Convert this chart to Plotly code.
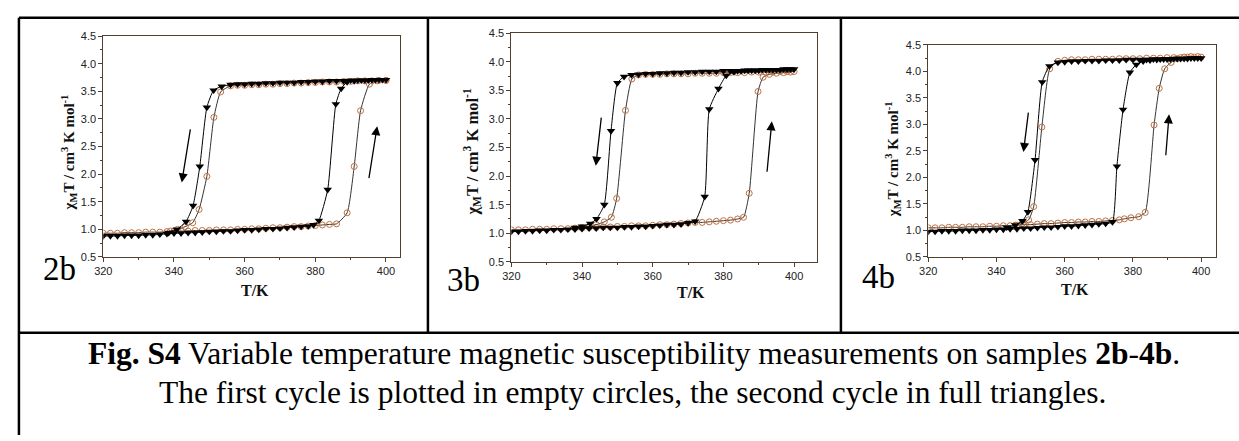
import plotly.graph_objects as go

W, H = 1239, 441

# ---------------- data ----------------
# Panel 2b, first cycle (open circles)
P2B_C1_HEAT_T = [320, 322, 324, 326, 328, 330, 332, 334, 336, 338, 340, 342, 344, 346, 348, 350, 352, 354, 356, 358,
                 360, 362, 364, 366, 368, 370, 372, 374, 376, 378, 380, 382, 384, 386, 389.0, 391.0, 392.8, 395.3, 397.5, 400]
P2B_C1_HEAT_V = [0.93, 0.93, 0.93, 0.94, 0.94, 0.94, 0.95, 0.95, 0.95, 0.96, 0.97, 0.97, 0.97, 0.98, 0.98, 0.98, 0.99, 0.99, 0.99, 1.00,
                 1.00, 1.01, 1.01, 1.02, 1.03, 1.03, 1.04, 1.05, 1.05, 1.06, 1.07, 1.08, 1.09, 1.10, 1.30, 2.14, 3.15, 3.63, 3.69, 3.70]
P2B_C1_COOL_T = [400, 398, 396, 394, 392, 390, 388, 386, 384, 382, 380, 378, 376, 374, 372, 370, 368, 366, 364, 362, 360, 358, 356,
                 353.2, 351.3, 349.3, 347.1, 345.3, 343.2, 341.0, 339.0]
P2B_C1_COOL_V = [3.70, 3.70, 3.69, 3.69, 3.69, 3.68, 3.68, 3.67, 3.67, 3.67, 3.66, 3.66, 3.65, 3.65, 3.64, 3.64, 3.63, 3.63, 3.62, 3.62, 3.61, 3.61, 3.60,
                 3.49, 3.03, 1.96, 1.36, 1.12, 1.05, 1.00, 0.97]
# Panel 2b, second cycle (full triangles)
P2B_C2_HEAT_T = [320, 322, 324, 326, 328, 330, 332, 334, 336, 338, 340, 342, 344, 346, 348, 350, 352, 354, 356, 358,
                 360, 362, 364, 366, 368, 370, 372, 374, 376, 378, 379.5, 381.0, 383.5, 385.8, 387.3, 389, 391, 393, 395, 397, 399]
P2B_C2_HEAT_V = [0.88, 0.88, 0.88, 0.89, 0.89, 0.89, 0.90, 0.90, 0.91, 0.92, 0.93, 0.93, 0.94, 0.94, 0.95, 0.96, 0.96, 0.97, 0.97, 0.98,
                 0.99, 0.99, 1.00, 1.01, 1.01, 1.02, 1.03, 1.04, 1.05, 1.06, 1.08, 1.16, 1.72, 3.27, 3.55, 3.67, 3.69, 3.70, 3.70, 3.71, 3.71]
P2B_C2_COOL_T = [400, 398, 396, 394, 392, 390, 388, 386, 384, 382, 380, 378, 376, 374, 372, 370, 368, 366, 364, 362, 360, 358, 356,
                 353.5, 351.2, 349.3, 347.3, 345.4, 343.4, 340.8, 338.5]
P2B_C2_COOL_V = [3.71, 3.71, 3.71, 3.70, 3.70, 3.70, 3.69, 3.69, 3.69, 3.68, 3.68, 3.67, 3.67, 3.66, 3.66, 3.66, 3.65, 3.65, 3.64, 3.64, 3.63, 3.63, 3.62,
                 3.59, 3.52, 3.21, 2.14, 1.43, 1.14, 1.00, 0.94]

# Panel 3b
P3B_C1_HEAT_T = [320, 322, 324, 326, 328, 330, 332, 334, 336, 338, 340, 342, 344, 346, 348, 350, 352, 354, 356, 358,
                 360, 362, 364, 366, 368, 370, 372, 374, 376, 378, 380, 382, 384, 385.7, 387.3, 389.8, 391.2, 393, 395, 397, 399]
P3B_C1_HEAT_V = [1.06, 1.06, 1.06, 1.07, 1.07, 1.07, 1.08, 1.08, 1.08, 1.09, 1.09, 1.10, 1.10, 1.11, 1.11, 1.12, 1.12, 1.13, 1.13, 1.13,
                 1.14, 1.15, 1.15, 1.16, 1.17, 1.18, 1.19, 1.19, 1.20, 1.21, 1.22, 1.23, 1.25, 1.28, 1.70, 3.48, 3.73, 3.78, 3.80, 3.81, 3.82]
P3B_C1_COOL_T = [400, 398, 396, 394, 392, 390, 388, 386, 384, 382, 380, 378, 376, 374, 372, 370, 368, 366, 364, 362, 360, 358, 356,
                 354.1, 352.3, 349.8, 348.3, 346.3, 344, 342, 340]
P3B_C1_COOL_V = [3.83, 3.83, 3.83, 3.82, 3.82, 3.82, 3.82, 3.81, 3.81, 3.81, 3.81, 3.80, 3.80, 3.80, 3.80, 3.79, 3.79, 3.79, 3.79, 3.78, 3.78, 3.78, 3.77,
                 3.70, 3.15, 1.61, 1.28, 1.20, 1.15, 1.12, 1.10]
P3B_C2_HEAT_T = [320, 322, 324, 326, 328, 330, 332, 334, 336, 338, 340, 342, 344, 346, 348, 350, 352, 354, 356, 358,
                 360, 362, 364, 366, 368, 370, 372, 374.7, 376.0, 378.6, 380.8, 383, 385, 387, 389, 391, 393, 395, 397, 399]
P3B_C2_HEAT_V = [1.03, 1.03, 1.04, 1.04, 1.05, 1.05, 1.06, 1.06, 1.07, 1.07, 1.08, 1.09, 1.09, 1.10, 1.10, 1.10, 1.11, 1.11, 1.12, 1.12,
                 1.13, 1.14, 1.15, 1.15, 1.16, 1.18, 1.21, 1.64, 3.17, 3.53, 3.76, 3.82, 3.84, 3.85, 3.85, 3.86, 3.86, 3.86, 3.87, 3.87]
P3B_C2_COOL_T = [400, 398, 396, 394, 392, 390, 388, 386, 384, 382, 380, 378, 376, 374, 372, 370, 368, 366, 364, 362, 360, 358, 356, 354,
                 351.9, 350.0, 348.2, 346.3, 344.1, 342.3, 340, 338]
P3B_C2_COOL_V = [3.87, 3.87, 3.86, 3.86, 3.86, 3.85, 3.85, 3.85, 3.84, 3.84, 3.84, 3.83, 3.83, 3.83, 3.82, 3.82, 3.81, 3.81, 3.80, 3.80, 3.79, 3.79, 3.78, 3.77,
                 3.74, 3.63, 2.79, 1.50, 1.25, 1.17, 1.12, 1.10]

# Panel 4b
P4B_C1_HEAT_T = [320, 322, 324, 326, 328, 330, 332, 334, 336, 338, 340, 342, 344, 346, 348, 350, 352, 354, 356, 358,
                 360, 362, 364, 366, 368, 370, 372, 374, 376, 377.5, 379.4, 381.7, 383.6, 386.2, 387.7, 389.3, 391.2, 393, 395, 397, 399]
P4B_C1_HEAT_V = [1.05, 1.05, 1.05, 1.06, 1.06, 1.06, 1.07, 1.07, 1.07, 1.08, 1.08, 1.09, 1.09, 1.10, 1.11, 1.11, 1.12, 1.13, 1.13, 1.14,
                 1.15, 1.15, 1.16, 1.16, 1.17, 1.17, 1.18, 1.19, 1.20, 1.22, 1.24, 1.26, 1.34, 2.99, 3.68, 4.05, 4.17, 4.24, 4.27, 4.28, 4.28]
P4B_C1_COOL_T = [400, 398, 396, 394, 392, 390, 388, 386, 384, 382, 380, 378, 376, 374, 372, 370, 368, 366, 364, 362, 360, 358,
                 355.6, 353.3, 350.9, 349.4, 347.5, 345.5]
P4B_C1_COOL_V = [4.27, 4.27, 4.27, 4.26, 4.26, 4.26, 4.25, 4.25, 4.25, 4.24, 4.24, 4.24, 4.24, 4.23, 4.23, 4.23, 4.23, 4.22, 4.22, 4.22, 4.21, 4.19,
                 4.05, 2.95, 1.45, 1.20, 1.13, 1.10]
P4B_C2_HEAT_T = [320, 322, 324, 326, 328, 330, 332, 334, 336, 338, 340, 342, 344, 346, 348, 350, 352, 354, 356, 358,
                 360, 362, 364, 366, 368, 370, 372, 374, 375.3, 377.1, 379.1, 381.0, 383, 385, 387, 389, 391, 393, 395, 397, 399]
P4B_C2_HEAT_V = [0.98, 0.98, 0.99, 0.99, 0.99, 1.00, 1.00, 1.00, 1.01, 1.01, 1.02, 1.02, 1.03, 1.03, 1.04, 1.04, 1.05, 1.06, 1.06, 1.07,
                 1.08, 1.08, 1.09, 1.10, 1.11, 1.12, 1.13, 1.16, 2.21, 3.28, 3.98, 4.13, 4.19, 4.21, 4.22, 4.23, 4.23, 4.24, 4.24, 4.25, 4.25]
P4B_C2_COOL_T = [400, 398, 396, 394, 392, 390, 388, 386, 384, 382, 380, 378, 376, 374, 372, 370, 368, 366, 364, 362, 360, 358,
                 355.5, 353.4, 351.3, 349.2, 347.6, 345.5, 343]
P4B_C2_COOL_V = [4.25, 4.25, 4.24, 4.24, 4.24, 4.23, 4.23, 4.23, 4.22, 4.22, 4.22, 4.22, 4.21, 4.21, 4.21, 4.20, 4.20, 4.20, 4.19, 4.19, 4.18, 4.17,
                 4.10, 3.80, 2.33, 1.35, 1.18, 1.10, 1.06]

PANEL_LABELS = ["2b", "3b", "4b"]
X_TITLE = "T/K"
Y_TITLE = "<b>χ<sub>M</sub>T / cm<sup>3</sup> K mol<sup>-1</sup></b>"
CAPTION_1 = "<b>Fig. S4</b> Variable temperature magnetic susceptibility measurements on samples <b>2b</b>-<b>4b</b>."
CAPTION_2 = "The first cycle is plotted in empty circles, the second cycle in full triangles."

# arrows (tail T, tail value, head T, head value) in data units
ARROWS = [
    [(344.7, 2.84, 342.2, 1.85), (395.1, 1.90, 397.5, 2.87)],
    [(345.5, 3.05, 343.9, 2.18), (392.3, 2.05, 393.7, 2.96)],
    [(349.4, 3.25, 347.9, 2.48), (389.6, 2.39, 390.6, 3.19)],
]

PANELS = [
    dict(c1=[(P2B_C1_HEAT_T, P2B_C1_HEAT_V), (P2B_C1_COOL_T, P2B_C1_COOL_V)],
         c2=[(P2B_C2_HEAT_T, P2B_C2_HEAT_V), (P2B_C2_COOL_T, P2B_C2_COOL_V)]),
    dict(c1=[(P3B_C1_HEAT_T, P3B_C1_HEAT_V), (P3B_C1_COOL_T, P3B_C1_COOL_V)],
         c2=[(P3B_C2_HEAT_T, P3B_C2_HEAT_V), (P3B_C2_COOL_T, P3B_C2_COOL_V)]),
    dict(c1=[(P4B_C1_HEAT_T, P4B_C1_HEAT_V), (P4B_C1_COOL_T, P4B_C1_COOL_V)],
         c2=[(P4B_C2_HEAT_T, P4B_C2_HEAT_V), (P4B_C2_COOL_T, P4B_C2_COOL_V)]),
]

# ---------------- layout geometry (pixels) ----------------
# plot areas: left, right, top, bottom
BOXES = [(95, 394, 31, 258), (506, 814, 28, 263), (926, 1216, 40, 258)]
XMAX = [404.0, 406.5, 404.4]
LABEL_POS = [(51, 270), (458, 282), (876, 279)]
XTITLE_POS = [(248, 292), (687, 295), (1074, 291)]
YTITLE_POS = [(60, 151), (466, 150), (890, 158)]
YTITLE_SIZE = [15, 16.5, 15]


def px(x):
    return x / W


def py(y):
    return 1 - y / H


FRAME = "#4d4033"
TICKFONT = dict(family="Liberation Sans, Arial, sans-serif", size=11, color="#222")
SERIF = "Liberation Serif, Times New Roman, serif"

fig = go.Figure()
layout = dict(width=W, height=H, margin=dict(l=0, r=0, t=0, b=0), showlegend=False,
              paper_bgcolor="white", plot_bgcolor="white")
annotations = []
shapes = []

for i, p in enumerate(PANELS):
    sfx = "" if i == 0 else str(i + 1)
    xa, ya = "x" + sfx, "y" + sfx
    for (t, v) in p["c1"]:
        fig.add_trace(go.Scatter(x=t, y=v, xaxis=xa, yaxis=ya, mode="lines+markers",
                                 line=dict(color="#333", width=1, shape="spline", smoothing=0.5),
                                 marker=dict(symbol="circle-open", size=6, color="#c07040", line=dict(width=1))))
    for (t, v) in p["c2"]:
        fig.add_trace(go.Scatter(x=t, y=v, xaxis=xa, yaxis=ya, mode="lines+markers",
                                 line=dict(color="black", width=1, shape="spline", smoothing=0.5),
                                 marker=dict(symbol="triangle-down", size=7.5, color="black", line=dict(width=0))))
    l, r, t_, b = BOXES[i]
    layout["xaxis" + sfx] = dict(domain=[px(l), px(r)], anchor=ya, range=[320, XMAX[i]],
                                 tick0=320, dtick=20, ticks="outside", ticklen=4, tickwidth=1, tickcolor=FRAME,
                                 minor=dict(dtick=10, ticks="outside", ticklen=2, tickcolor=FRAME),
                                 showline=True, linecolor=FRAME, linewidth=1, mirror=True,
                                 showgrid=False, zeroline=False, tickfont=TICKFONT)
    layout["yaxis" + sfx] = dict(domain=[py(b), py(t_)], anchor=xa, range=[0.5, 4.5],
                                 tick0=0.5, dtick=0.5, tickformat=".1f", ticks="outside", ticklen=4, tickwidth=1,
                                 tickcolor=FRAME,
                                 minor=dict(dtick=0.25, ticks="outside", ticklen=2, tickcolor=FRAME),
                                 showline=True, linecolor=FRAME, linewidth=1, mirror=True,
                                 showgrid=False, zeroline=False, tickfont=TICKFONT)
    # arrows
    for (tx, tv, hx, hv) in ARROWS[i]:
        annotations.append(dict(x=hx, y=hv, ax=tx, ay=tv, xref=xa, yref=ya, axref=xa, ayref=ya,
                                text="", showarrow=True, arrowhead=2, arrowsize=1.4, arrowwidth=1.3,
                                arrowcolor="black"))
    # panel label
    lx, ly = LABEL_POS[i]
    annotations.append(dict(x=px(lx), y=py(ly), xref="paper", yref="paper", text=PANEL_LABELS[i],
                            showarrow=False, xanchor="center", yanchor="middle",
                            font=dict(family=SERIF, size=33, color="black")))
    # axis titles
    tx_, ty_ = XTITLE_POS[i]
    annotations.append(dict(x=px(tx_), y=py(ty_), xref="paper", yref="paper", text="<b>" + X_TITLE + "</b>",
                            showarrow=False, xanchor="center", yanchor="middle",
                            font=dict(family=SERIF, size=16, color="#111")))
    yx, yy = YTITLE_POS[i]
    annotations.append(dict(x=px(yx), y=py(yy), xref="paper", yref="paper", text=Y_TITLE, textangle=-90,
                            showarrow=False, xanchor="center", yanchor="middle",
                            font=dict(family=SERIF, size=YTITLE_SIZE[i], color="#111")))

# caption
annotations.append(dict(x=px(630), y=py(357), xref="paper", yref="paper", text=CAPTION_1, showarrow=False,
                        xanchor="center", yanchor="middle", font=dict(family=SERIF, size=31.5, color="black")))
annotations.append(dict(x=px(628), y=py(397), xref="paper", yref="paper", text=CAPTION_2, showarrow=False,
                        xanchor="center", yanchor="middle", font=dict(family=SERIF, size=31.5, color="black")))

# table lines
LW = 2.5
for (x0, y0, x1, y1) in [(10, 12, W, 12), (10, 12, 10, H), (10, 336, W, 336), (422, 12, 422, 336), (838, 12, 838, 336)]:
    shapes.append(dict(type="line", xref="paper", yref="paper", x0=px(x0), y0=py(y0), x1=px(x1), y1=py(y1),
                       line=dict(color="black", width=LW)))

layout["annotations"] = annotations
layout["shapes"] = shapes
fig.update_layout(**layout)
fig.write_html("out.html")
